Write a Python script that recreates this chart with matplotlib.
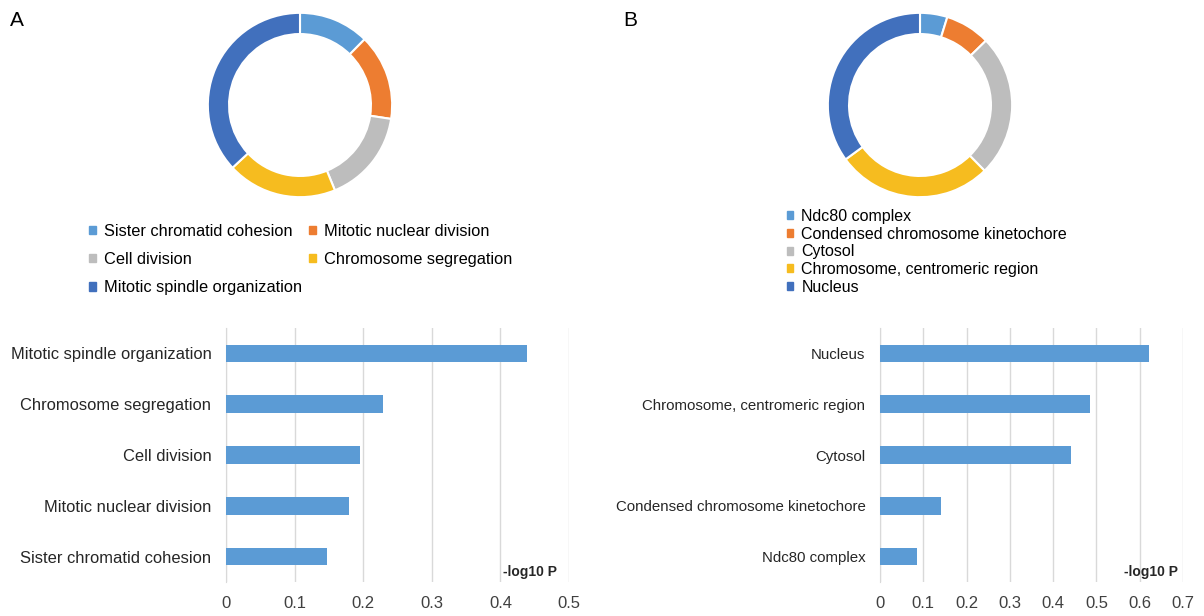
import numpy as np
import matplotlib
matplotlib.use('Agg')
from matplotlib import pyplot as plt
from matplotlib.patches import Patch

plt.rcParams['font.family'] = ['Liberation Sans', 'DejaVu Sans']

# Panel A: biological process terms (-log10 P)
bp_terms = ['Sister chromatid cohesion', 'Mitotic nuclear division', 'Cell division',
            'Chromosome segregation', 'Mitotic spindle organization']
bp_vals = [0.147, 0.179, 0.195, 0.229, 0.439]

# Panel B: cellular component terms (-log10 P)
cc_terms = ['Ndc80 complex', 'Condensed chromosome kinetochore', 'Cytosol',
            'Chromosome, centromeric region', 'Nucleus']
cc_vals = [0.085, 0.140, 0.442, 0.484, 0.621]

colors = ['#5B9BD5', '#ED7D31', '#BDBDBD', '#F6BC1F', '#4170BD']
bar_color = '#5B9BD5'
W, H = 1204, 616


def px_axes(fig, x0, y0, x1, y1):
    # pixel box (top-left origin) -> figure axes
    return fig.add_axes([x0 / W, 1 - y1 / H, (x1 - x0) / W, (y1 - y0) / H])


def donut(ax, vals):
    ax.pie(vals, colors=colors, startangle=90, counterclock=False, radius=1.0,
           wedgeprops=dict(width=0.23, edgecolor='white', linewidth=1.5))
    ax.set_xlim(-1.02, 1.02)
    ax.set_ylim(-1.02, 1.02)
    ax.set_aspect('equal')
    ax.axis('off')


def barplot(ax, terms, vals, xmax, lab_x, fs):
    y = np.arange(len(terms))
    ax.barh(y, vals, height=0.35, color=bar_color, zorder=3)
    ax.set_ylim(-0.5, len(terms) - 0.5)
    ax.set_xlim(0, xmax)
    ax.set_xticks(np.arange(0, xmax + 0.05, 0.1))
    ax.set_xticklabels(['0'] + ['%.1f' % v for v in np.arange(0.1, xmax + 0.05, 0.1)])
    ax.set_yticks(y)
    ax.set_yticklabels(terms, fontsize=fs, color='#262626')
    ax.grid(axis='x', color='#D9D9D9', linewidth=1, zorder=0)
    for s in ['top', 'right', 'bottom']:
        ax.spines[s].set_visible(False)
    ax.spines['left'].set_color('#D9D9D9')
    ax.tick_params(axis='y', length=0, pad=10.5)
    ax.tick_params(axis='x', length=0, pad=10, labelsize=12, labelcolor='#404040')
    ax.text(lab_x, 0.04, '-log10 P', transform=ax.transAxes, ha='right', va='center',
            fontsize=10, fontweight='bold', color='#262626')


fig = plt.figure(figsize=(W / 100, H / 100), dpi=100)

# Panel A
ax1 = px_axes(fig, 206, 11, 394, 199)
donut(ax1, bp_vals)
handles = [Patch(color=c) for c in colors]
order = [0, 2, 4, 1, 3]
fig.legend([handles[i] for i in order], [bp_terms[i] for i in order],
           loc='upper left', bbox_to_anchor=(89 / W, 1 - 224 / H), ncol=2, frameon=False,
           fontsize=11.8, handlelength=0.4, handleheight=0.4, handletextpad=0.5,
           labelspacing=0.8, columnspacing=0.45, borderpad=0, borderaxespad=0)
ax2 = px_axes(fig, 226, 328, 569, 582)
barplot(ax2, bp_terms, bp_vals, 0.5, 0.965, 11.9)

# Panel B
ax3 = px_axes(fig, 826, 11, 1014, 199)
donut(ax3, cc_vals)
fig.legend(handles, cc_terms, loc='upper left', bbox_to_anchor=(787 / W, 1 - 209 / H),
           frameon=False, fontsize=11.5, handlelength=0.4, handleheight=0.4,
           handletextpad=0.5, labelspacing=0.17, borderpad=0, borderaxespad=0)
ax4 = px_axes(fig, 880, 328, 1183, 582)
barplot(ax4, cc_terms, cc_vals, 0.7, 0.983, 10.8)

fig.text(10 / W, 1 - 20 / H, 'A', fontsize=15, va='center', ha='left')
fig.text(623 / W, 1 - 20 / H, 'B', fontsize=15, va='center', ha='left')

fig.savefig('out.png', dpi=100, facecolor='white')
